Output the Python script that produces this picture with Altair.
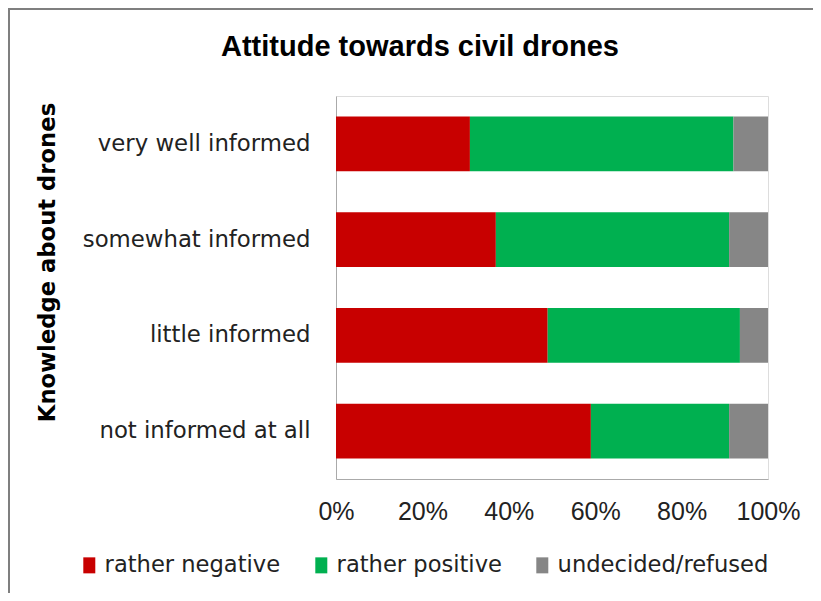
import altair as alt
import pandas as pd

categories = ["very well informed", "somewhat informed", "little informed", "not informed at all"]
series = ["rather negative", "rather positive", "undecided/refused"]
rather_negative = [31, 37, 49, 59]
rather_positive = [61, 54, 44.5, 32]
undecided = [8, 9, 6.5, 9]
colors = ["#C80000", "#00B050", "#868686"]
tick_values = [0, 0.2, 0.4, 0.6, 0.8, 1.0]

rows = []
for i, c in enumerate(categories):
    for j, (s, vals) in enumerate(zip(series, [rather_negative, rather_positive, undecided])):
        rows.append({"knowledge": c, "attitude": s, "value": vals[i], "order": j})
df = pd.DataFrame(rows)

bars = alt.Chart(df).mark_bar(opacity=1).encode(
    y=alt.Y("knowledge:N", sort=categories,
            scale=alt.Scale(paddingInner=0.43, paddingOuter=0.215),
            axis=alt.Axis(title="Knowledge about drones", titleFont="DejaVu Sans",
                          titleFontSize=22.7, titleFontWeight="bold", titleColor="#000000",
                          titleAngle=270, titleX=-289, titleY=166, titleAlign="center",
                          titleBaseline="middle",
                          labelFont="DejaVu Sans", labelFontSize=22.8, labelColor="#222222",
                          labelPadding=26, labelLimit=0, ticks=False, domainColor="#aaaaaa",
                          domainWidth=1)),
    x=alt.X("value:Q", stack="normalize",
            scale=alt.Scale(domain=[0, 1], nice=False),
            axis=alt.Axis(title=None, values=tick_values, format=".0%", grid=False,
                          ticks=False, tickSize=0, labelFont="Liberation Sans", labelFontSize=25,
                          labelColor="#222222", labelPadding=20, domainColor="#aaaaaa",
                          labelFlush=False)),
    color=alt.Color("attitude:N", sort=series,
                    scale=alt.Scale(domain=series, range=colors),
                    legend=alt.Legend(title=None, orient="none", legendX=-258, legendY=458,
                                      direction="horizontal",
                                      symbolType="M-0.75,-1H0.75V1H-0.75Z", symbolSize=256,
                                      symbolStrokeWidth=0, labelFont="DejaVu Sans",
                                      labelFontSize=22.6, labelColor="#222222", labelOffset=4,
                                      labelLimit=0, columnPadding=29)),
    order=alt.Order("order:Q"),
)

frame_df = pd.DataFrame({"a": [0]})
left_border = alt.Chart(frame_df).mark_rule(color="#7f7f7f", strokeWidth=2).encode(
    x=alt.value(-327), y=alt.value(-87), y2=alt.value(510))
top_border = alt.Chart(frame_df).mark_rule(color="#7f7f7f", strokeWidth=2).encode(
    y=alt.value(-87), x=alt.value(-328), x2=alt.value(477))

chart = alt.layer(bars, left_border, top_border).properties(
    width=432, height=383,
    title=alt.TitleParams("Attitude towards civil drones", font="Liberation Sans",
                          fontSize=29, fontWeight="bold", color="#000000",
                          anchor="middle", frame="group", dx=-132, dy=77, offset=0,
                          baseline="alphabetic"),
    autosize=alt.AutoSizeParams(type="none"),
    padding={"left": 328, "top": 88, "right": 45, "bottom": 114},
).configure_view(stroke=None).configure(background="white")

chart.save("out.html", embed_options={"renderer": "svg", "actions": False})
